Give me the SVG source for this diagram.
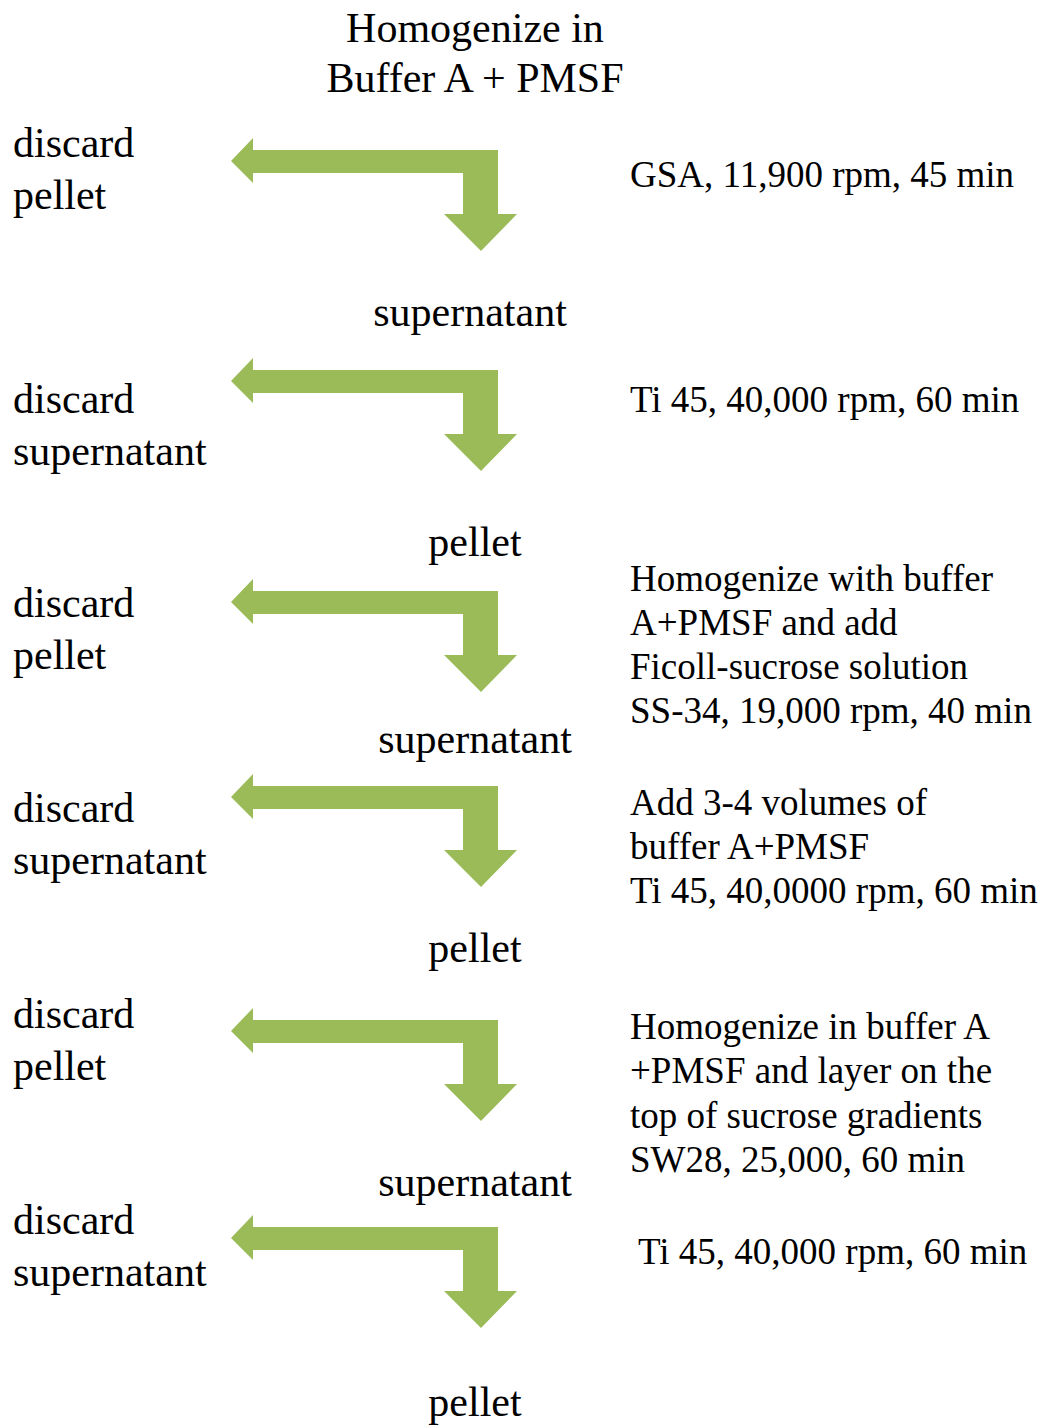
<svg xmlns="http://www.w3.org/2000/svg" xmlns:xlink="http://www.w3.org/1999/xlink" width="1046" height="1425" viewBox="0 0 1046 1425">
<style>
text{font-family:"Liberation Serif","Times New Roman",serif;fill:#000}
.t{font-size:42px;text-anchor:middle}
.l{font-size:42px}
.m{font-size:42px;text-anchor:middle}
.r{font-size:37px}
.arr{fill:#9BBB59}
</style>
<defs>
<path id="bent" class="arr" d="M231,161 L253,138 L253,150 L498,150 L498,214 L517,214 L481,251 L444,214 L463,214 L463,173 L253,173 L253,183 Z"/>
</defs>
<rect width="1046" height="1425" fill="#fff"/>
<g id="connectors">
<use xlink:href="#bent"/>
<use xlink:href="#bent" transform="translate(0,220)"/>
<use xlink:href="#bent" transform="translate(0,441)"/>
<use xlink:href="#bent" transform="translate(0,636)"/>
<use xlink:href="#bent" transform="translate(0,870)"/>
<use xlink:href="#bent" transform="translate(0,1077)"/>
</g>
<g id="start"><text class="t" x="475" y="42">Homogenize in</text><text class="t" x="475" y="92">Buffer A + PMSF</text></g>
<g id="discard1"><text class="l" x="13" y="157">discard</text><text class="l" x="13" y="209">pellet</text></g>
<g id="step1"><text class="r" x="630" y="187">GSA, 11,900 rpm, 45 min</text></g>
<g id="result1"><text class="m" x="470" y="326">supernatant</text></g>
<g id="discard2"><text class="l" x="13" y="413">discard</text><text class="l" x="13" y="465">supernatant</text></g>
<g id="step2"><text class="r" x="630" y="412">Ti 45, 40,000 rpm, 60 min</text></g>
<g id="result2"><text class="m" x="475" y="556">pellet</text></g>
<g id="discard3"><text class="l" x="13" y="617">discard</text><text class="l" x="13" y="669">pellet</text></g>
<g id="step3"><text class="r" x="630" y="591">Homogenize with buffer</text><text class="r" x="630" y="635">A+PMSF and add</text><text class="r" x="630" y="679">Ficoll-sucrose solution</text><text class="r" x="630" y="723">SS-34, 19,000 rpm, 40 min</text></g>
<g id="result3"><text class="m" x="475" y="753">supernatant</text></g>
<g id="discard4"><text class="l" x="13" y="822">discard</text><text class="l" x="13" y="874">supernatant</text></g>
<g id="step4"><text class="r" x="630" y="815">Add 3-4 volumes of</text><text class="r" x="630" y="859">buffer A+PMSF</text><text class="r" x="630" y="903">Ti 45, 40,0000 rpm, 60 min</text></g>
<g id="result4"><text class="m" x="475" y="962">pellet</text></g>
<g id="discard5"><text class="l" x="13" y="1028">discard</text><text class="l" x="13" y="1080">pellet</text></g>
<g id="step5"><text class="r" x="630" y="1039">Homogenize in buffer A</text><text class="r" x="630" y="1083">+PMSF and layer on the</text><text class="r" x="630" y="1128">top of sucrose gradients</text><text class="r" x="630" y="1172">SW28, 25,000, 60 min</text></g>
<g id="result5"><text class="m" x="475" y="1196">supernatant</text></g>
<g id="discard6"><text class="l" x="13" y="1234">discard</text><text class="l" x="13" y="1286">supernatant</text></g>
<g id="step6"><text class="r" x="638" y="1264">Ti 45, 40,000 rpm, 60 min</text></g>
<g id="result6"><text class="m" x="475" y="1416">pellet</text></g>
</svg>
